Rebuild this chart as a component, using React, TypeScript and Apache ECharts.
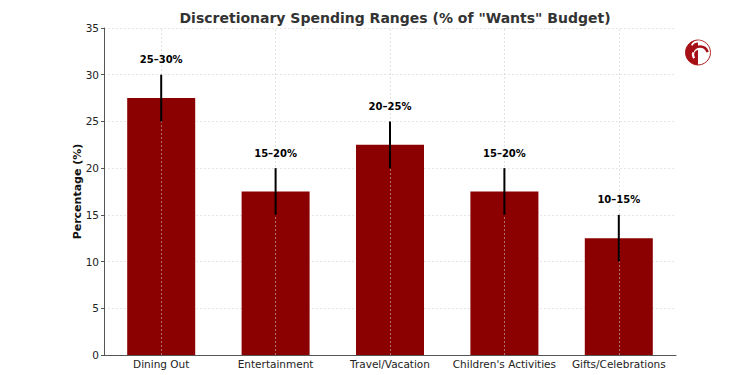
import React, { useEffect, useRef } from "react";
import * as echarts from "echarts";

const categories = ["Dining Out", "Entertainment", "Travel/Vacation", "Children's Activities", "Gifts/Celebrations"];
const midValues = [27.5, 17.5, 22.5, 17.5, 12.5];
const lowValues = [25, 15, 20, 15, 10];
const highValues = [30, 20, 25, 20, 15];
const rangeLabels = ["25–30%", "15–20%", "20–25%", "15–20%", "10–15%"];

const FONT = "DejaVu Sans";

export default function App() {
  const ref = useRef<HTMLDivElement>(null);
  useEffect(() => {
    if (!ref.current) return;
    document.body.style.margin = "0";
    const chart = echarts.init(ref.current, null, { renderer: "svg" });
    const errData = categories.map((_, i) => [i, lowValues[i], highValues[i], rangeLabels[i]]);
    chart.setOption({
      animation: false,
      backgroundColor: "#fff",
      title: {
        text: 'Discretionary Spending Ranges (% of "Wants" Budget)',
        left: 390,
        textAlign: "center",
        top: 6,
        textStyle: { fontFamily: FONT, fontWeight: "bold", fontSize: 14, color: "#333" },
      },
      grid: { left: 104, right: 74, top: 28, bottom: 20 },
      xAxis: {
        type: "category",
        data: categories,
        axisLine: { lineStyle: { color: "#555", width: 1 } },
        axisTick: { show: false },
        axisLabel: { fontFamily: FONT, fontSize: 10.5, color: "#222", margin: 3, interval: 0 },
        splitLine: { show: false },
      },
      yAxis: {
        type: "value",
        min: 0,
        max: 35,
        interval: 5,
        name: "Percentage (%)",
        nameLocation: "middle",
        nameGap: 21,
        nameMoveOverlap: false,
        nameTextStyle: { fontFamily: FONT, fontWeight: "bold", fontSize: 11, color: "#111" },
        axisLine: { show: true, lineStyle: { color: "#555", width: 1 } },
        axisTick: { show: true, length: 3, lineStyle: { color: "#555" } },
        axisLabel: { fontFamily: FONT, fontSize: 10.5, color: "#222", margin: 5 },
        splitLine: { show: true, lineStyle: { color: "#e6e6e6", type: [2, 2], width: 1 } },
      },
      series: [
        {
          type: "bar",
          data: midValues,
          barWidth: 68,
          itemStyle: { color: "#8b0000" },
          markLine: {
            silent: true,
            symbol: "none",
            label: { show: false },
            lineStyle: { color: "rgba(200,200,200,0.55)", type: [2, 2], width: 1 },
            data: categories.map((c) => ({ xAxis: c })),
          },
        },
        {
          type: "custom",
          data: errData,
          z: 5,
          renderItem: (params: any, api: any) => {
            const x = api.value(0);
            const lo = api.coord([x, api.value(1)]);
            const hi = api.coord([x, api.value(2)]);
            const lbl = rangeLabels[params.dataIndex];
            return {
              type: "group",
              children: [
                {
                  type: "line",
                  shape: { x1: lo[0], y1: lo[1], x2: hi[0], y2: hi[1] },
                  style: { stroke: "#000", lineWidth: 2 },
                },
                {
                  type: "text",
                  x: hi[0],
                  y: hi[1] - 15,
                  style: {
                    text: lbl,
                    fill: "#000",
                    font: `bold 10px "${FONT}"`,
                    textAlign: "center",
                    textVerticalAlign: "middle",
                  },
                },
              ],
            };
          },
        },
      ],
      graphic: [
        {
          type: "group",
          left: 685,
          top: 39,
          children: [
            { type: "circle", shape: { cx: 13, cy: 13, r: 12.5 }, style: { fill: "#fff", stroke: "#b22222", lineWidth: 1 } },
            { type: "sector", shape: { cx: 13, cy: 13, r0: 0, r: 12.5, startAngle: Math.PI * 0.5, endAngle: Math.PI * 1.5 }, style: { fill: "#a50f15" } },
            { type: "arc", shape: { cx: 14, cy: 15, r: 6, startAngle: Math.PI * 0.8, endAngle: Math.PI * 2.1 }, style: { stroke: "#fff", lineWidth: 2.2, fill: "none" } },
            { type: "arc", shape: { cx: 15, cy: 15, r: 8, startAngle: Math.PI * 1.1, endAngle: Math.PI * 1.9 }, style: { stroke: "#a50f15", lineWidth: 2.5, fill: "none" } },
            { type: "arc", shape: { cx: 13, cy: 9, r: 7, startAngle: Math.PI * 1.15, endAngle: Math.PI * 1.85 }, style: { stroke: "#fff", lineWidth: 1.8, fill: "none" } },
          ],
        },
      ],
    });
    return () => chart.dispose();
  }, []);
  return <div ref={ref} style={{ width: 750, height: 375 }} />;
}
